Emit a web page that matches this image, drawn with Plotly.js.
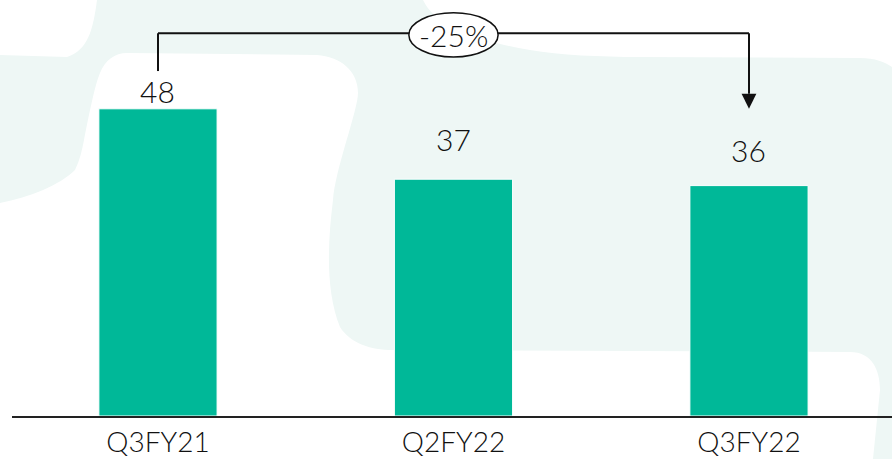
<!DOCTYPE html>
<html>
<head>
<meta charset="utf-8">
<script src="https://cdn.plot.ly/plotly-3.0.1.min.js"></script>
<style>html,body{margin:0;padding:0;background:#fff;}#chart{width:892px;height:459px;}</style>
</head>
<body>
<div id="chart"></div>
<script>
// ---- data ----
const categories = ["Q3FY21", "Q2FY22", "Q3FY22"];
const values = [48, 37, 36];
const valueLabels = ["48", "37", "36"];
const changeLabel = "-25%";

// ---- layout geometry helpers (decoration only) ----
const W = 892, H = 459, ML = 12, MR = 0, MT = 0, MB = 43;
const PW = W - ML - MR, PH = H - MT - MB;
function px(x) { return ((x - ML) / PW).toFixed(5); }
function py(y) { return ((H - MB - y) / PH).toFixed(5); }
function path(cmds) {
  return cmds.map(c => {
    const op = c[0]; const nums = c.slice(1); let s = op;
    for (let i = 0; i < nums.length; i += 2) s += (i ? ' ' : '') + px(nums[i]) + ',' + py(nums[i + 1]);
    return s;
  }).join(' ') + ' Z';
}
const whiteBlobs = [
  [['M',0,0],['L',97,0],['C',93,30,88,50,67,57],['L',0,55]],
  [['M',423,0],['C',435,25,470,40,530,50],['C',560,55,600,57,640,57],['L',860,58],['C',875,58,885,62,892,67],['L',892,0]],
  [['M',0,203],['C',30,197,60,185,75,170],['C',80,160,82,150,84,140],['C',90,110,95,85,100,73],['C',105,60,115,53,127,53],
   ['L',317,55],['C',340,57,358,70,358,93],['C',358,110,335,170,333,200],['C',328,240,325,290,340,327],
   ['C',350,343,370,350,393,350],['L',850,352],['C',872,352,880,370,880,390],['L',873,459],['L',0,459]]
];

const mint = '#eef7f5';
const barColor = '#00b898';
const ink = '#111111';
const fontFam = 'Lato, "Open Sans", sans-serif';

const shapes = whiteBlobs.map(b => ({
  type: 'path', xref: 'paper', yref: 'paper', layer: 'below',
  path: path(b), fillcolor: '#ffffff', line: {width: 0}
}));

// bracket from first to last bar
const yTop = 59.8, yLeftEnd = 53.9, yArrowBase = 50.35;
shapes.push({type:'line', xref:'x', yref:'y', x0:0, x1:0, y0:yLeftEnd, y1:yTop, line:{color:ink, width:2}});
shapes.push({type:'line', xref:'x', yref:'y', x0:0, x1:2, y0:yTop, y1:yTop, line:{color:ink, width:2}});
shapes.push({type:'line', xref:'x', yref:'y', x0:2, x1:2, y0:yTop, y1:yArrowBase, line:{color:ink, width:2}});
shapes.push({type:'path', xref:'x', yref:'y', path:'M1.975,' + yArrowBase + ' L2.025,' + yArrowBase + ' L2,' + values[0] + ' Z', fillcolor: ink, line:{width:0}});
shapes.push({type:'circle', xref:'x', yref:'y', x0:0.849, x1:1.151, y0:56.1, y1:63.0, fillcolor:'#ffffff', line:{color:ink, width:1.5}});

const labelShift = [18, 40, 36];
const annotations = categories.map((c, i) => ({
  x: c, y: values[i], xref: 'x', yref: 'y', text: valueLabels[i], showarrow: false,
  yanchor: 'middle', yshift: labelShift[i], font: {family: fontFam, size: 30, color: ink, weight: 300}
}));
annotations.push({x: 1, y: 59.6, xref:'x', yref:'y', text: changeLabel, showarrow:false, yanchor:'middle',
  font:{family: fontFam, size: 30, color: ink, weight: 300}});

const trace = {
  type: 'bar', x: categories, y: values, width: 0.4,
  marker: {color: barColor, line: {color: '#ffffff', width: 1}},
  hoverinfo: 'none'
};

const layout = {
  width: W, height: H,
  margin: {l: ML, r: MR, t: MT, b: MB, pad: 0},
  paper_bgcolor: mint, plot_bgcolor: 'rgba(0,0,0,0)',
  showlegend: false,
  xaxis: {type: 'category', range: [-0.494, 2.484], showgrid: false, zeroline: false,
    showline: true, linecolor: '#222222', linewidth: 2, ticks: '', ticklabelstandoff: 0,
    tickfont: {family: fontFam, size: 28, color: ink, weight: 300}},
  yaxis: {range: [0, 65], visible: false, showgrid: false, zeroline: false},
  shapes: shapes, annotations: annotations
};

Plotly.newPlot('chart', [trace], layout, {displayModeBar: false, staticPlot: true});
</script>
</body>
</html>
